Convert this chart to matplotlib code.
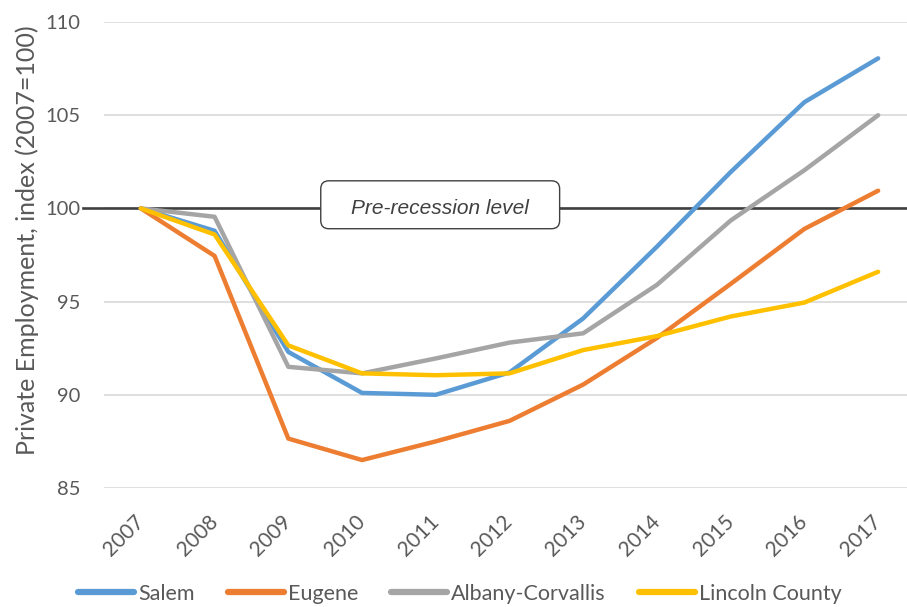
import matplotlib
matplotlib.use("Agg")
import matplotlib.pyplot as plt
from matplotlib.patches import FancyBboxPatch

years = ["2007", "2008", "2009", "2010", "2011", "2012", "2013", "2014", "2015", "2016", "2017"]
salem = [100.0, 98.8, 92.3, 90.1, 90.0, 91.2, 94.1, 97.95, 101.95, 105.7, 108.05]
eugene = [100.0, 97.45, 87.65, 86.5, 87.5, 88.6, 90.55, 93.05, 95.95, 98.9, 100.95]
albany = [100.0, 99.55, 91.5, 91.15, 91.95, 92.8, 93.3, 95.9, 99.35, 102.05, 105.0]
lincoln = [100.0, 98.6, 92.65, 91.15, 91.05, 91.15, 92.4, 93.15, 94.2, 94.95, 96.6]
series_names = ["Salem", "Eugene", "Albany-Corvallis", "Lincoln County"]
series_colors = ["#5B9BD5", "#ED7D31", "#A5A5A5", "#FFC000"]
baseline = 100
baseline_label = "Pre-recession level"

plt.rcParams["font.family"] = ["Lato", "DejaVu Sans"]
text_color = "#595959"

fig = plt.figure(figsize=(9.07, 6.07), dpi=100)
ax = fig.add_axes([104 / 907, 119 / 607, (915 - 104) / 907, (488 - 22) / 607])

x = list(range(len(years)))
for vals, name, col in zip([salem, eugene, albany, lincoln], series_names, series_colors):
    ax.plot(x, vals, color=col, lw=3.2, label=name, solid_capstyle="round",
            solid_joinstyle="round", zorder=3)

# reference line at the pre-recession level
ax.plot([-0.79, 10.6], [baseline, baseline], color="#404040", lw=1.9,
        clip_on=False, zorder=2)
box = FancyBboxPatch((2.44, 98.91), 3.24, 2.57,
                     boxstyle="round,pad=0,rounding_size=0.11",
                     mutation_aspect=3.95, facecolor="white",
                     edgecolor="#404040", lw=1.0, zorder=4)
ax.add_patch(box)
ax.text(4.06, baseline, baseline_label, style="italic", fontsize=15,
        family="Liberation Sans", color="#404040", ha="center", va="center",
        zorder=5)

ax.set_xlim(-0.5, 10.5)
ax.set_ylim(85, 110)
ax.set_yticks([85, 90, 95, 100, 105, 110])
ax.set_xticks(x)
ax.set_xticklabels(years, rotation=45, ha="right", va="center",
                   rotation_mode="anchor")
ax.tick_params(axis="y", length=0, pad=17, labelsize=14.5, labelcolor=text_color)
ax.tick_params(axis="x", length=0, pad=22, labelsize=15, labelcolor=text_color)
ax.grid(axis="y", color="#D9D9D9", lw=1.2, zorder=0)
ax.set_axisbelow(True)
for s in ax.spines.values():
    s.set_visible(False)

fig.text(27 / 907, 1 - 240 / 607, "Private Employment, index (2007=100)",
         rotation=90, ha="center", va="center", fontsize=18, color=text_color)

leg = fig.legend(loc="center", bbox_to_anchor=(460 / 907, 1 - 594 / 607), ncol=4,
                 frameon=False, fontsize=15.5, handlelength=2.6,
                 handletextpad=0.18, columnspacing=1.55, borderpad=0.1)
for t in leg.get_texts():
    t.set_color(text_color)
for h in leg.get_lines():
    h.set_linewidth(4.5)

fig.savefig("out.png", dpi=100)
